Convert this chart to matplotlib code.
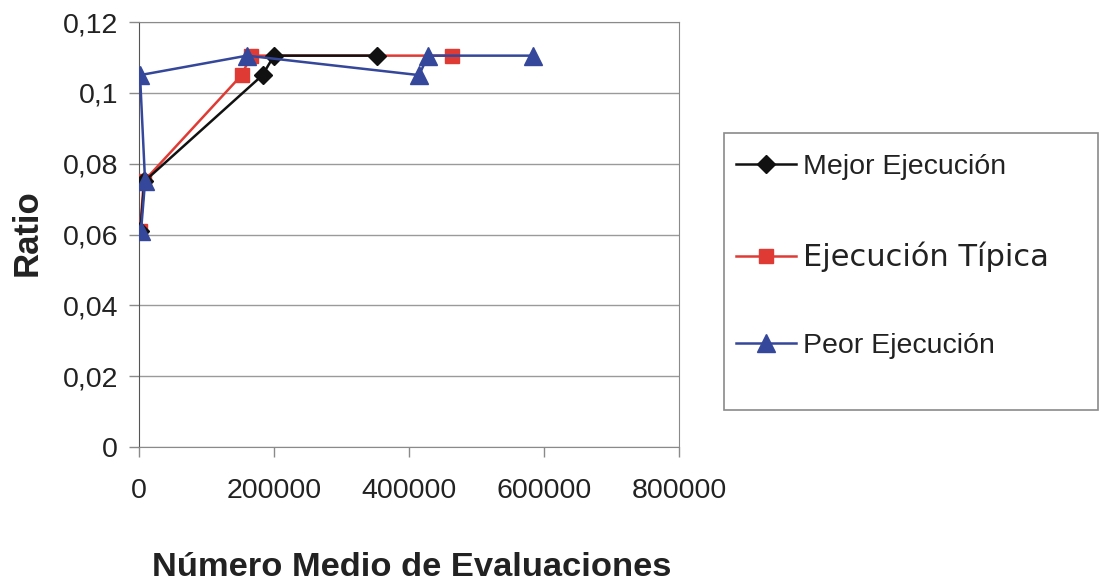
import matplotlib.pyplot as plt
from matplotlib.patches import Rectangle
from matplotlib.ticker import FuncFormatter

# evaluaciones medias (x) y ratio (y) de cada ejecucion
mejor_x = [2000, 8000, 183000, 200000, 353000]
mejor_y = [0.061, 0.075, 0.105, 0.1105, 0.1105]
tipica_x = [1500, 7000, 152000, 166000, 463000]
tipica_y = [0.061, 0.075, 0.105, 0.1105, 0.1105]
peor_x = [3000, 9000, 1500, 160000, 415000, 428000, 583000]
peor_y = [0.061, 0.075, 0.105, 0.1105, 0.105, 0.1105, 0.1105]

etiquetas = ['Mejor Ejecución', 'Ejecución Típica', 'Peor Ejecución']

plt.rcParams['font.family'] = ['Liberation Sans', 'DejaVu Sans']

fig = plt.figure(figsize=(10.99, 5.87), dpi=100)
ax = fig.add_axes([139/1099, 1-447/587, 540/1099, 425/587])

l1, = ax.plot(mejor_x, mejor_y, color='#111111', marker='D', markersize=9.5, linewidth=1.8, zorder=4)
l2, = ax.plot(tipica_x, tipica_y, color='#e03a34', marker='s', markersize=10.5, linewidth=1.8, zorder=3)
l3, = ax.plot(peor_x, peor_y, color='#34479a', marker='^', markersize=13, linewidth=1.8, zorder=5)

ax.set_xlim(0, 800000)
ax.set_ylim(0, 0.12)
ax.set_xticks([0, 200000, 400000, 600000, 800000])
ax.set_yticks([0, 0.02, 0.04, 0.06, 0.08, 0.1, 0.12])
ax.yaxis.set_major_formatter(FuncFormatter(lambda v, p: f'{v:g}'.replace('.', ',')))
ax.grid(axis='y', color='#9a9a9a', linewidth=1)
ax.set_axisbelow(True)
for s in ['top', 'right', 'bottom']:
    ax.spines[s].set_color('#8a8a8a')
ax.spines['left'].set_color('#555555')
ax.tick_params(axis='both', labelsize=20.5, colors='#8a8a8a', labelcolor='#222222', length=7, width=1)
ax.tick_params(axis='x', pad=15)
ax.tick_params(axis='y', pad=8)

fig.text(412/1099, 1-567/587, 'Número Medio de Evaluaciones', fontsize=24.8, fontweight='bold',
         color='#222222', ha='center', va='center')
fig.text(27/1099, 1-233/587, 'Ratio', fontsize=25, fontweight='bold', rotation=90,
         color='#222222', ha='center', va='center')

# caja de la leyenda
fig.patches.append(Rectangle((724/1099, 1-410/587), 374/1099, 277/587, transform=fig.transFigure,
                             facecolor='white', edgecolor='#8a8a8a', linewidth=1.2))
leg = fig.legend([l1, l2, l3], etiquetas, loc='upper left', bbox_to_anchor=(705/1099, 1-123/587),
                 frameon=False, fontsize=20.5, labelspacing=2.15, handlelength=2.1, handletextpad=0.25,
                 borderpad=0.6, labelcolor='#222222')
leg.get_texts()[1].set_family('DejaVu Sans')
leg.get_texts()[1].set_fontsize(22)

fig.savefig('out.png', dpi=100)
